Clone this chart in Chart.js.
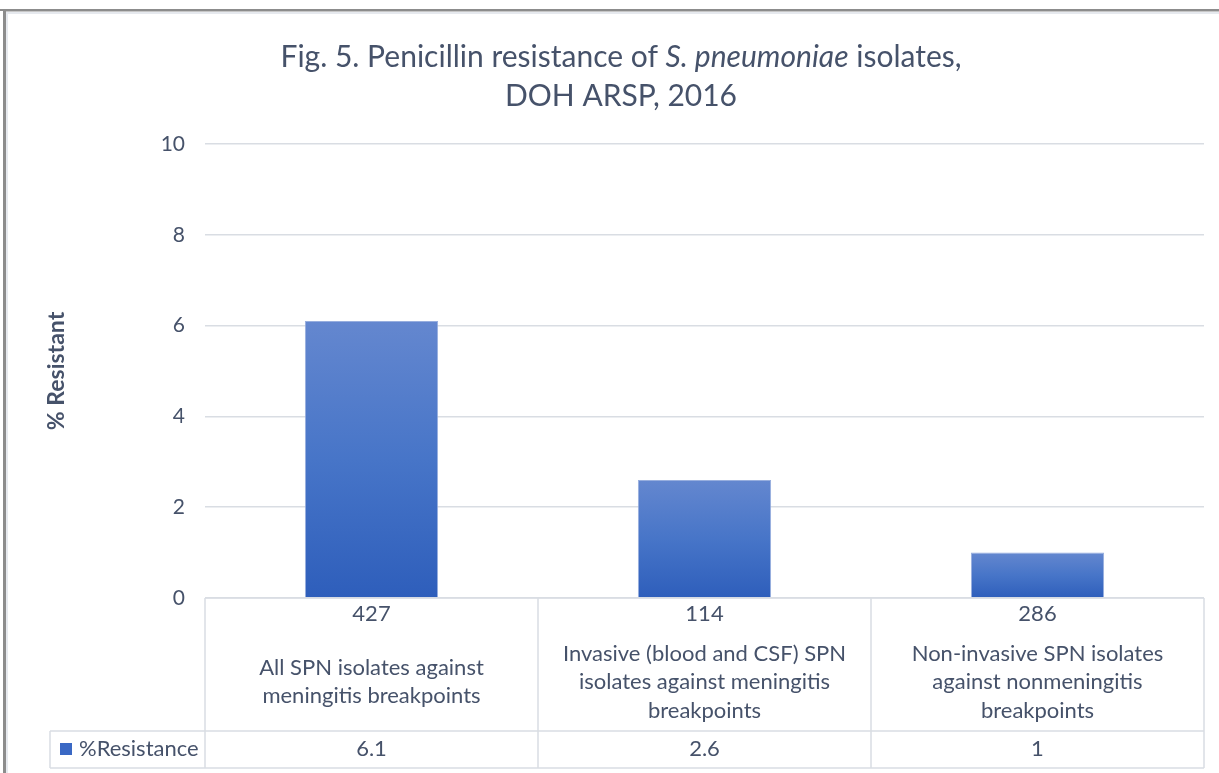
<!DOCTYPE html>
<html><head><meta charset="utf-8">
<script src="https://cdn.jsdelivr.net/npm/chart.js@4.4.0/dist/chart.umd.min.js"></script>
<style>html,body{margin:0;padding:0;background:#fff;overflow:hidden}#wrap{width:1219px;height:773px;position:relative}canvas{display:block}</style>
</head><body><div id="wrap"><canvas id="c" width="1219" height="773"></canvas></div>
<script>
const categoryLines = [
  ["All SPN isolates against", "meningitis breakpoints"],
  ["Invasive (blood and CSF) SPN", "isolates against meningitis", "breakpoints"],
  ["Non-invasive SPN isolates", "against nonmeningitis", "breakpoints"]
];
const categories = categoryLines.map(l => l.join(" "));
const sampleSizes = ["427", "114", "286"];
const resistance = [6.1, 2.6, 1];
const valueLabels = ["6.1", "2.6", "1"];
const seriesName = "%Resistance";
const titleParts = [
  [["Fig. 5. Penicillin resistance of ", false], ["S. pneumoniae", true], [" isolates,", false]],
  [["DOH ARSP, 2016", false]]
];
const yAxisTitle = "% Resistant";
const yMin = 0, yMax = 10, yStep = 2;

const FONT = "Lato, 'Open Sans', sans-serif";
const TEXT = "#46526A";
const LINE = "#D9DDE3";

const framePlugin = {
  id: 'frame',
  beforeDraw(chart) {
    const c = chart.ctx;
    c.save();
    c.fillStyle = '#fff';
    c.fillRect(0, 0, chart.width, chart.height);
    c.fillStyle = '#8C8C8C';
    c.fillRect(0, 9, chart.width, 2);
    c.fillRect(3, 9, 3, chart.height - 9);
    c.fillStyle = '#C6C6C6';
    c.fillRect(6, 11, chart.width - 6, 1);
    c.fillStyle = '#E6E9EE';
    c.fillRect(6, 12, chart.width - 6, 2);
    c.fillRect(6, 12, 2, chart.height - 12);
    c.restore();
  },
  afterDraw(chart) {
    const c = chart.ctx;
    const ca = chart.chartArea;
    c.save();
    // title
    const cx = 621;
    const titleY = [57, 96];
    const tSize = 30;
    titleParts.forEach((parts, li) => {
      let total = 0;
      const widths = parts.map(([t, it]) => {
        c.font = (it ? 'italic ' : '') + tSize + 'px ' + FONT;
        const w = c.measureText(t).width;
        total += w;
        return w;
      });
      let x = cx - total / 2;
      c.fillStyle = TEXT;
      c.textBaseline = 'middle';
      c.textAlign = 'left';
      parts.forEach(([t, it], i) => {
        c.font = (it ? 'italic ' : '') + tSize + 'px ' + FONT;
        c.fillText(t, x, titleY[li]);
        x += widths[i];
      });
    });
    // data table
    const n = categories.length;
    const top = ca.bottom, mid = 731, bottom = 768, legLeft = 50;
    const colW = (ca.right - ca.left) / n;
    c.strokeStyle = LINE;
    c.lineWidth = 1.5;
    c.beginPath();
    c.moveTo(ca.left, top); c.lineTo(ca.right, top);
    c.moveTo(legLeft, mid); c.lineTo(ca.right, mid);
    c.moveTo(legLeft, bottom); c.lineTo(ca.right, bottom);
    c.moveTo(legLeft, mid); c.lineTo(legLeft, bottom);
    for (let i = 0; i <= n; i++) {
      const x = ca.left + i * colW;
      c.moveTo(x, top); c.lineTo(x, bottom);
    }
    c.stroke();
    c.fillStyle = TEXT;
    c.textAlign = 'center';
    c.textBaseline = 'middle';
    c.font = '22px ' + FONT;
    const xs = chart.scales.x;
    for (let i = 0; i < n; i++) {
      const x = xs.getPixelForValue(i);
      c.fillText(sampleSizes[i], x, 614);
      const lines = categoryLines[i];
      const lh = 28.5;
      const y0 = 682 - (lines.length - 1) * lh / 2;
      lines.forEach((l, k) => c.fillText(l, x, y0 + k * lh));
      c.fillText(valueLabels[i], x, 749);
    }
    // legend key
    c.fillStyle = '#3A68C4';
    c.fillRect(60, 743, 12, 12);
    c.fillStyle = TEXT;
    c.textAlign = 'left';
    c.fillText(seriesName, 79, 749);
    c.restore();
  }
};

function barGradient(ctx) {
  const chart = ctx.chart;
  if (!chart.chartArea || ctx.raw === undefined) return '#4472C4';
  const y = chart.scales.y;
  const y0 = y.getPixelForValue(ctx.raw);
  const y1 = y.getPixelForValue(0);
  const g = chart.ctx.createLinearGradient(0, y0, 0, y1);
  g.addColorStop(0, '#6487CF');
  g.addColorStop(0.5, '#4775C8');
  g.addColorStop(1, '#2E5EBB');
  return g;
}

new Chart(document.getElementById('c'), {
  type: 'bar',
  data: {
    labels: categories,
    datasets: [{
      label: seriesName,
      data: resistance,
      backgroundColor: barGradient,
      borderColor: 'rgba(140,165,218,0.9)',
      borderWidth: 1,
      categoryPercentage: 1,
      barPercentage: 0.4
    }]
  },
  options: {
    responsive: false,
    animation: false,
    devicePixelRatio: 1,
    layout: { padding: { top: 144, left: 0, right: 15, bottom: 175 } },
    plugins: { legend: { display: false }, title: { display: false }, tooltip: { enabled: false } },
    scales: {
      x: { display: false, offset: true },
      y: {
        min: yMin, max: yMax,
        afterFit(s) { s.width = 205; },
        ticks: { stepSize: yStep, padding: 20, color: TEXT, font: { family: FONT, size: 21 } },
        grid: { color: LINE, lineWidth: 1.5, drawTicks: false },
        border: { display: false },
        title: { display: true, text: yAxisTitle, color: TEXT, font: { family: FONT, size: 23, weight: 'bold' }, padding: { top: 43, bottom: 0 } }
      }
    }
  },
  plugins: [framePlugin]
});
</script>
</body></html>
